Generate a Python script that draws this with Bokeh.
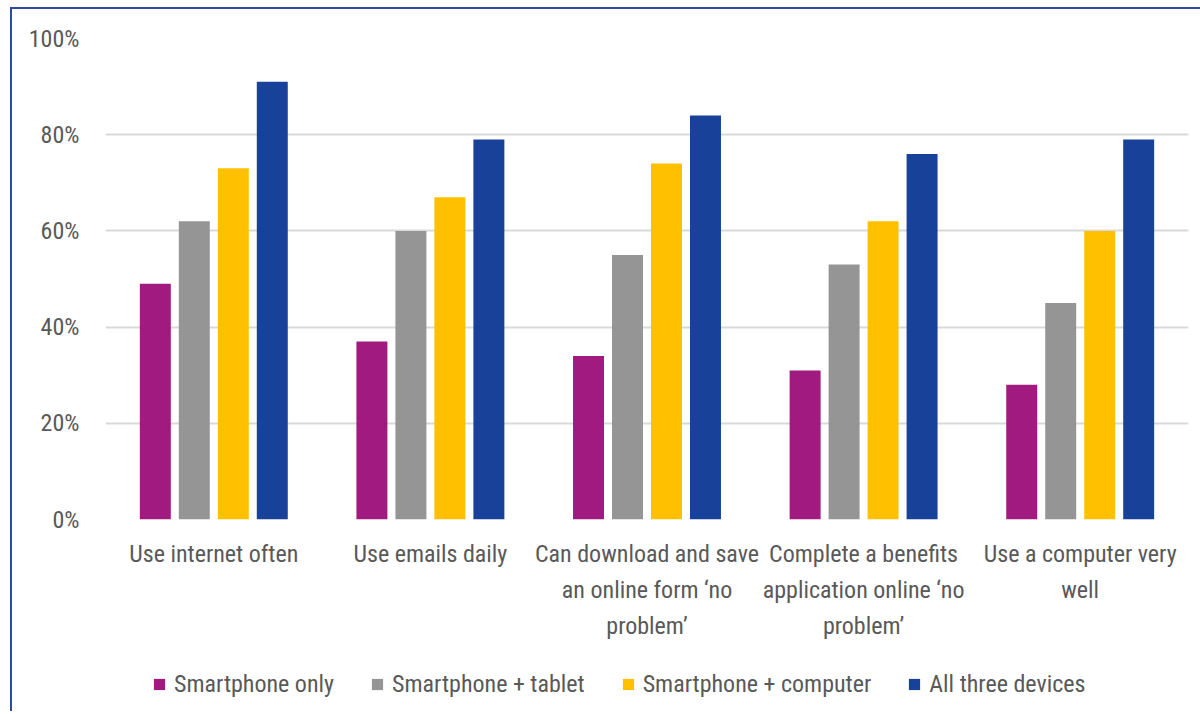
from bokeh.plotting import figure
from bokeh.layouts import column
from bokeh.models import FactorRange, Range1d, FixedTicker, PrintfTickFormatter, Legend, LegendItem, ColumnDataSource
from bokeh.transform import dodge
from bokeh.embed import file_html
from bokeh.resources import INLINE

categories = [
    "Use internet often",
    "Use emails daily",
    "Can download and save\nan online form \u2018no\nproblem\u2019",
    "Complete a benefits\napplication online \u2018no\nproblem\u2019",
    "Use a computer very\nwell",
]
series_names = ["Smartphone only", "Smartphone + tablet", "Smartphone + computer", "All three devices"]
smartphone_only = [49, 37, 34, 31, 28]
smartphone_tablet = [62, 60, 55, 53, 45]
smartphone_computer = [73, 67, 74, 62, 60]
all_three = [91, 79, 84, 76, 79]
y_ticks = [0, 20, 40, 60, 80, 100]

colors = ["#A01A80", "#959595", "#FFC000", "#18419A"]
FONT = "Roboto Condensed"
TXT = "#595959"

src = ColumnDataSource(dict(cat=categories, s0=smartphone_only, s1=smartphone_tablet,
                            s2=smartphone_computer, s3=all_three))

p = figure(width=1188, height=650, x_range=FactorRange(*categories, range_padding=0, factor_padding=0),
           y_range=Range1d(0, 100), output_backend="svg", toolbar_location=None,
           min_border_left=93, min_border_right=12, min_border_top=29, min_border_bottom=140)
p.outline_line_color = None

offsets = [-0.27, -0.09, 0.09, 0.27]
for i, (key, c) in enumerate(zip(["s0", "s1", "s2", "s3"], colors)):
    p.vbar(x=dodge("cat", offsets[i], range=p.x_range), top=key, width=0.143, source=src,
           fill_color=c, line_color=None)

p.xgrid.grid_line_color = None
p.ygrid.grid_line_color = "#D9D9D9"
p.ygrid.grid_line_width = 2
p.yaxis.ticker = FixedTicker(ticks=y_ticks)
p.yaxis.formatter = PrintfTickFormatter(format="%d%%")
for ax in (p.xaxis[0], p.yaxis[0]):
    ax.axis_line_color = None
    ax.major_tick_line_color = None
    ax.minor_tick_line_color = None
    ax.major_tick_out = 0
    ax.major_tick_in = 0
    ax.major_label_text_font = FONT
    ax.major_label_text_font_size = "24px"
    ax.major_label_text_color = TXT
p.yaxis.major_label_standoff = 26
p.xaxis.major_label_standoff = 20
p.xaxis.major_label_text_line_height = 1.3

# legend strip (swatch renderers hold no drawable point)
pl = figure(width=1188, height=52, x_range=Range1d(0, 1), y_range=Range1d(0, 1),
            output_backend="svg", toolbar_location=None,
            min_border_left=93, min_border_right=12, min_border_top=0, min_border_bottom=0)
pl.outline_line_color = None
pl.axis.visible = False
pl.grid.visible = False
items = []
for n, c in zip(series_names, colors):
    r = pl.vbar(x=[float("nan")], top=[float("nan")], width=0.1, fill_color=c, line_color=None)
    items.append(LegendItem(label=n, renderers=[r]))
legend = Legend(items=items, orientation="horizontal", location=(47, 13),
                glyph_width=14, glyph_height=14, label_standoff=8, spacing=36,
                padding=0, margin=0, border_line_color=None, background_fill_alpha=0,
                label_text_font=FONT, label_text_font_size="24px", label_text_color=TXT)
pl.add_layout(legend, "center")

layout = column(p, pl, spacing=0,
                styles={"margin-left": "10px", "margin-top": "7px",
                        "border-left": "2px solid #2B4C9E", "border-top": "2px solid #2B4C9E"})

open("out.html", "w").write(file_html(layout, INLINE))
